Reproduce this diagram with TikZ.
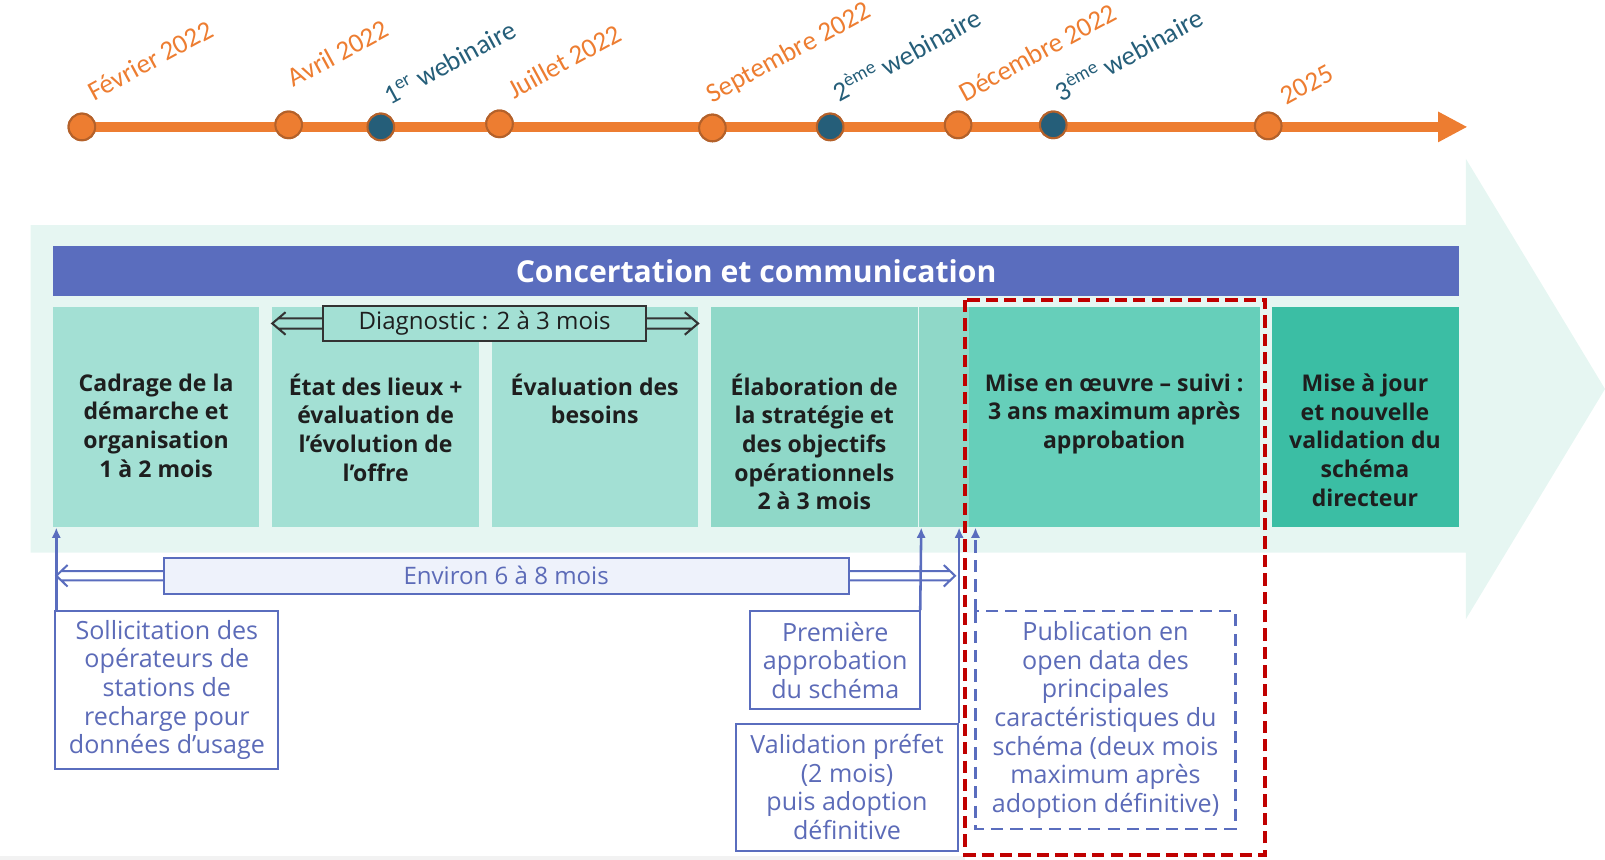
\documentclass[tikz,border=0pt]{standalone}
\usepackage{fontspec}
\newfontfamily\tlfont{Carlito}
\newfontfamily\bxfont{Open Sans}
\usetikzlibrary{calc,arrows.meta}
\definecolor{tlorange}{HTML}{ED7D31}
\definecolor{tlbrown}{HTML}{B4612A}
\definecolor{tlteal}{HTML}{255E79}
\definecolor{bandc}{HTML}{E6F6F2}
\definecolor{bannerc}{HTML}{5A6DBE}
\definecolor{mintA}{HTML}{A3E0D4}
\definecolor{mintB}{HTML}{8FD8C8}
\definecolor{mintC}{HTML}{66CFBA}
\definecolor{mintD}{HTML}{3BBEA4}
\definecolor{bluet}{HTML}{5C6BB8}
\definecolor{blueline}{HTML}{5A6DBE}
\definecolor{envfill}{HTML}{EEF2FB}
\definecolor{redd}{HTML}{C00000}
\definecolor{darkt}{HTML}{1E1E1E}
\definecolor{diagline}{HTML}{333333}
\begin{document}
\begin{tikzpicture}[x=1pt,y=-1pt,
  dot/.style={circle, draw=tlbrown, line width=2pt, minimum size=26pt, inner sep=0pt, fill=tlorange},
  webdot/.style={dot, fill=tlteal},
  datelab/.style={font=\tlfont\fontsize{26.5}{30}\selectfont, text=tlorange, rotate=28.5, anchor=base west, inner sep=0pt},
  weblab/.style={datelab, text=tlteal},
  phase/.style={rectangle, minimum height=215pt, inner sep=0pt, anchor=north west},
  phasetxt/.style={font=\bxfont\bfseries\fontsize{22.5}{28}\selectfont, text=darkt, align=center, anchor=north, inner sep=0pt, execute at begin node=\rule{0pt}{18pt}},
  notebox/.style={draw=blueline, line width=2pt, fill=white, inner sep=0pt, anchor=north west, font=\bxfont\fontsize{24.5}{28}\selectfont, text=bluet, align=center},
  vline/.style={draw=blueline, line width=2.5pt, -{Latex[length=10pt,width=9pt]}},
  hollowdark/.style={draw=diagline, line width=2pt},
  hollowblue/.style={draw=blueline, line width=2pt},
  reddash/.style={draw=redd, line width=4pt, dash pattern=on 12pt off 6pt},
  bluedash/.style={draw=blueline, line width=2pt, dash pattern=on 12pt off 7pt}
]
\useasboundingbox (0,0) rectangle (1568,840);
\fill[gray!10] (0,836) rectangle (943,840);

% ---------- timeline ----------
\coordinate (tlend) at (1405,124);
\coordinate (tltip) at (1433,124);
\node[dot] (t1) at (80,124) {};
\node[dot] (t2) at (282,122) {};
\node[webdot] (t3) at (372,124) {};
\node[dot] (t4) at (488,121) {};
\node[dot] (t5) at (696,125) {};
\node[webdot] (t6) at (811,124) {};
\node[dot] (t7) at (936,122) {};
\node[webdot] (t8) at (1029,122) {};
\node[dot] (t9) at (1239,123) {};
\draw[tlorange, line width=9pt] (t1.center) -- (tlend);
\fill[tlorange] ($(tlend)+(0,-15)$) -- (tltip) -- ($(tlend)+(0,15)$) -- cycle;
\foreach \n in {t1,t2,t4,t5,t7,t9} {\node[dot] at (\n) {};}
\foreach \n in {t3,t6,t8} {\node[webdot] at (\n) {};}

\node[datelab] (l1) at (92,99) {Février 2022};
\node[datelab] (l2) at (287,86) {Avril 2022};
\node[weblab]  (l3) at (381,103) {1\textsuperscript{er} webinaire};
\node[datelab] (l4) at (502,97) {Juillet 2022};
\node[datelab] (l5) at (696,101) {Septembre 2022};
\node[weblab]  (l6) at (820,100) {2\textsuperscript{ème} webinaire};
\node[datelab] (l7) at (943,100) {Décembre 2022};
\node[weblab]  (l8) at (1037,100) {3\textsuperscript{ème} webinaire};
\node[datelab] (l9) at (1257,103) {2025};

% ---------- big background arrow ----------
\fill[bandc] (30,220) -- (1432,220) -- (1432,155) -- (1568,380) -- (1432,605) -- (1432,540) -- (30,540) -- cycle;

% ---------- banner ----------
\node[fill=bannerc, minimum width=1373pt, minimum height=49pt, inner sep=0pt, anchor=north west] (banner) at (52,240) {};
\node[font=\bxfont\bfseries\fontsize{29.5}{32}\selectfont, text=white] (bannertxt) at (banner.center) {Concertation et communication};

% ---------- phases ----------
\node[phase, fill=mintA, minimum width=201pt] (p1) at (52,300) {};
\node[phase, fill=mintA, minimum width=202pt] (p2) at (266,300) {};
\node[phase, fill=mintA, minimum width=202pt] (p3) at (480,300) {};
\node[phase, fill=mintB, minimum width=203pt] (p4) at (694,300) {};
\node[phase, fill=mintB, minimum width=49pt] (p5) at (898,300) {};
\node[phase, fill=mintC, minimum width=285pt] (p6) at (946,300) {};
\node[phase, fill=mintD, minimum width=183pt] (p7) at (1242,300) {};

\node[phasetxt] (p1t) at (152.5,365) {Cadrage de la\\démarche et\\organisation\\1 à 2 mois};
\node[phasetxt] (p2t) at (367,365) {État des lieux +\\évaluation de\\l’évolution de\\l’offre};
\node[phasetxt] (p3t) at (581,365) {Évaluation des\\besoins};
\node[phasetxt] (p4t) at (795.5,365) {Élaboration de\\la stratégie et\\des objectifs\\opérationnels\\2 à 3 mois};
\node[phasetxt] (p6t) at (1088.5,365) {Mise en œuvre – suivi :\\3 ans maximum après\\approbation};
\node[phasetxt] (p7t) at (1333.5,365) {Mise à jour\\et nouvelle\\validation du\\schéma\\directeur};

% ---------- diagnostic ----------
\node[draw=diagline, line width=2pt, fill=mintA, minimum width=315pt, minimum height=34pt, inner sep=0pt,
      font=\bxfont\fontsize{23.5}{28}\selectfont, text=darkt] (diag) at (473.5,316) {Diagnostic : 2 à 3 mois};
\coordinate (dL) at (266,316);
\coordinate (dR) at (682,316);
\draw[hollowdark] ($(diag.west)+(0,-5)$) -- ($(dL)+(6,-5)$)
                  ($(diag.west)+(0,5)$) -- ($(dL)+(6,5)$)
                  ($(dL)+(13,-11)$) -- (dL) -- ($(dL)+(13,11)$);
\draw[hollowdark] ($(diag.east)+(0,-5)$) -- ($(dR)+(-6,-5)$)
                  ($(diag.east)+(0,5)$) -- ($(dR)+(-6,5)$)
                  ($(dR)+(-13,-11)$) -- (dR) -- ($(dR)+(-13,11)$);

% ---------- environ ----------
\node[draw=blueline, line width=2pt, fill=envfill, minimum width=669pt, minimum height=35pt, inner sep=0pt,
      font=\bxfont\fontsize{23.5}{28}\selectfont, text=bluet] (env) at (494.5,562.5) {Environ 6 à 8 mois};
\coordinate (eL) at (55,562.5);
\coordinate (eR) at (933,562.5);
\draw[hollowblue] ($(env.west)+(0,-4.5)$) -- ($(eL)+(5,-4.5)$)
                  ($(env.west)+(0,4.5)$) -- ($(eL)+(5,4.5)$)
                  ($(eL)+(11,-10.5)$) -- (eL) -- ($(eL)+(11,10.5)$);
\draw[hollowblue] ($(env.east)+(0,-4.5)$) -- ($(eR)+(-5,-4.5)$)
                  ($(env.east)+(0,4.5)$) -- ($(eR)+(-5,4.5)$)
                  ($(eR)+(-11,-10.5)$) -- (eR) -- ($(eR)+(-11,10.5)$);

% ---------- notes ----------
\node[notebox, minimum width=218pt, minimum height=154pt] (sol) at (53,596)
  {Sollicitation des\\opérateurs de\\stations de\\recharge pour\\données d’usage};
\node[notebox, minimum width=166pt, minimum height=96pt] (prem) at (732,596)
  {Première\\approbation\\du schéma};
\node[notebox, minimum width=217pt, minimum height=124pt] (val) at (718,706)
  {Validation préfet\\(2 mois)\\puis adoption\\définitive};
\node[notebox, draw=none, minimum width=252pt, minimum height=211pt] (pub) at (953,597)
  {Publication en\\open data des\\principales\\caractéristiques du\\schéma (deux mois\\maximum après\\adoption définitive)};
\draw[bluedash] (pub.north west) rectangle (pub.south east);

\draw[vline] ($(sol.north west)+(2,0)$) -- ($(p1.south west)+(3,0)$);
\draw[vline] ($(prem.north east)+(-1,0)$) -- (prem.north east |- p4.south);
\draw[vline] (val.north east) -- (val.north east |- p5.south);
\draw[bluedash, -{Latex[length=10pt,width=9pt]}] (pub.north west) -- (pub.north west |- p6.south);

% ---------- red highlight ----------
\draw[reddash] (943,293) rectangle (1236,835);
\end{tikzpicture}
\end{document}
